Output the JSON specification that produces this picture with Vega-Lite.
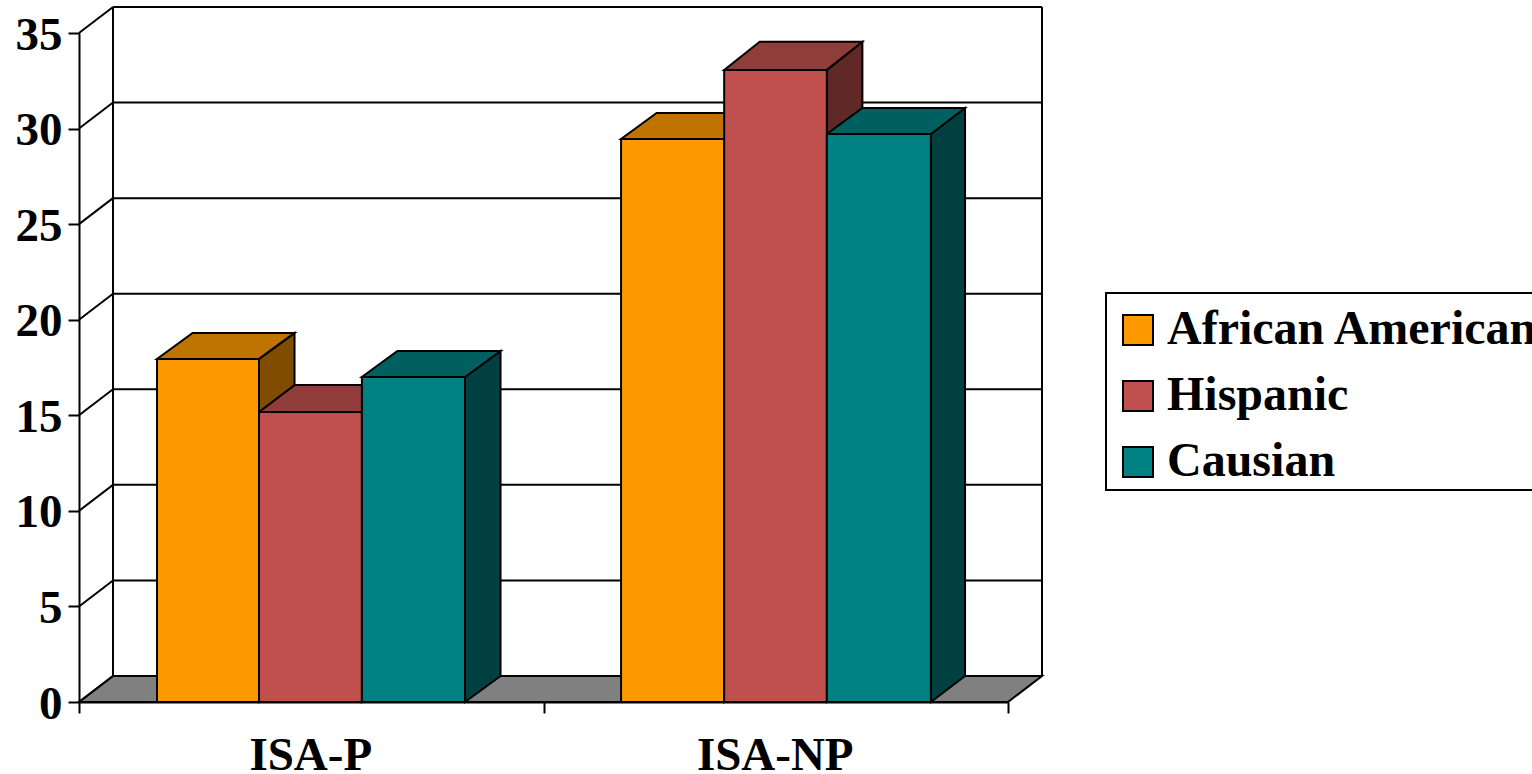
{
"$schema":"https://vega.github.io/schema/vega-lite/v6.json",
"width":929,"height":669,
"autosize":{"type":"none"},
"padding":{"left":79,"top":33,"right":524,"bottom":72},
"background":"white",
"config":{"view":{"stroke":null},"axis":{"grid":false,"title":null,"domainColor":"black","domainWidth":2,"tickColor":"black","tickWidth":2,"tickSize":11,"labelFont":"Liberation Serif","labelFontWeight":"bold","labelFontSize":47,"labelColor":"black","labelOverlap":false,"labelBound":false,"labelFlush":false},"legend":{"strokeWidth":2}},
"datasets":{
"bars":[
{"group":"ISA-P","series":"African American","x0":0.168,"x1":0.3875,"value":17.95},
{"group":"ISA-P","series":"Hispanic","x0":0.3875,"x1":0.609,"value":15.17},
{"group":"ISA-P","series":"Causian","x0":0.609,"x1":0.831,"value":17.0},
{"group":"ISA-NP","series":"African American","x0":1.167,"x1":1.389,"value":29.46},
{"group":"ISA-NP","series":"Hispanic","x0":1.389,"x1":1.61,"value":33.07},
{"group":"ISA-NP","series":"Causian","x0":1.61,"x1":1.834,"value":29.72}
],
"floor":[
{"x":0,"lo":0,"hi":0},{"x":0.0732,"lo":0,"hi":1.36},{"x":2,"lo":0,"hi":1.36},{"x":2.0732,"lo":1.36,"hi":1.36}
],
"wall":[
{"x":0,"x2":0.0732,"y":0,"y2":1.36},{"x":0,"x2":0.0732,"y":5,"y2":6.36},{"x":0,"x2":0.0732,"y":10,"y2":11.36},{"x":0,"x2":0.0732,"y":15,"y2":16.36},{"x":0,"x2":0.0732,"y":20,"y2":21.36},{"x":0,"x2":0.0732,"y":25,"y2":26.36},{"x":0,"x2":0.0732,"y":30,"y2":31.36},{"x":0,"x2":0.0732,"y":35,"y2":36.36},
{"x":0.0732,"x2":2.0732,"y":1.36,"y2":1.36},{"x":0.0732,"x2":2.0732,"y":6.36,"y2":6.36},{"x":0.0732,"x2":2.0732,"y":11.36,"y2":11.36},{"x":0.0732,"x2":2.0732,"y":16.36,"y2":16.36},{"x":0.0732,"x2":2.0732,"y":21.36,"y2":21.36},{"x":0.0732,"x2":2.0732,"y":26.36,"y2":26.36},{"x":0.0732,"x2":2.0732,"y":31.36,"y2":31.36},{"x":0.0732,"x2":2.0732,"y":36.36,"y2":36.36},
{"x":0.0732,"x2":0.0732,"y":1.36,"y2":36.36},{"x":2.0732,"x2":2.0732,"y":1.36,"y2":36.36}
],
"faces":[
{"id":"s1","face":"African American side","x":0.3875,"lo":0,"hi":17.95},{"id":"s1","face":"African American side","x":0.464,"lo":1.36,"hi":19.31},
{"id":"s2","face":"Hispanic side","x":0.609,"lo":0,"hi":15.17},{"id":"s2","face":"Hispanic side","x":0.6855,"lo":1.36,"hi":16.58},
{"id":"s3","face":"Causian side","x":0.831,"lo":0,"hi":17.0},{"id":"s3","face":"Causian side","x":0.9075,"lo":1.36,"hi":18.36},
{"id":"s4","face":"African American side","x":1.389,"lo":0,"hi":29.46},{"id":"s4","face":"African American side","x":1.4655,"lo":1.36,"hi":30.82},
{"id":"s5","face":"Hispanic side","x":1.61,"lo":0,"hi":33.07},{"id":"s5","face":"Hispanic side","x":1.6865,"lo":1.36,"hi":34.54},
{"id":"s6","face":"Causian side","x":1.834,"lo":0,"hi":29.72},{"id":"s6","face":"Causian side","x":1.9075,"lo":1.36,"hi":31.08},
{"id":"t1","face":"African American top","x":0.168,"lo":17.95,"hi":17.95},{"id":"t1","face":"African American top","x":0.2445,"lo":17.95,"hi":19.31},{"id":"t1","face":"African American top","x":0.3875,"lo":17.95,"hi":19.31},{"id":"t1","face":"African American top","x":0.464,"lo":19.31,"hi":19.31},
{"id":"t2","face":"Hispanic top","x":0.3875,"lo":15.17,"hi":15.17},{"id":"t2","face":"Hispanic top","x":0.464,"lo":15.17,"hi":16.58},{"id":"t2","face":"Hispanic top","x":0.609,"lo":15.17,"hi":16.58},{"id":"t2","face":"Hispanic top","x":0.6855,"lo":16.58,"hi":16.58},
{"id":"t3","face":"Causian top","x":0.609,"lo":17.0,"hi":17.0},{"id":"t3","face":"Causian top","x":0.6855,"lo":17.0,"hi":18.36},{"id":"t3","face":"Causian top","x":0.831,"lo":17.0,"hi":18.36},{"id":"t3","face":"Causian top","x":0.9075,"lo":18.36,"hi":18.36},
{"id":"t4","face":"African American top","x":1.167,"lo":29.46,"hi":29.46},{"id":"t4","face":"African American top","x":1.2435,"lo":29.46,"hi":30.82},{"id":"t4","face":"African American top","x":1.389,"lo":29.46,"hi":30.82},{"id":"t4","face":"African American top","x":1.4655,"lo":30.82,"hi":30.82},
{"id":"t5","face":"Hispanic top","x":1.389,"lo":33.07,"hi":33.07},{"id":"t5","face":"Hispanic top","x":1.4655,"lo":33.07,"hi":34.54},{"id":"t5","face":"Hispanic top","x":1.61,"lo":33.07,"hi":34.54},{"id":"t5","face":"Hispanic top","x":1.6865,"lo":34.54,"hi":34.54},
{"id":"t6","face":"Causian top","x":1.61,"lo":29.72,"hi":29.72},{"id":"t6","face":"Causian top","x":1.6865,"lo":29.72,"hi":31.08},{"id":"t6","face":"Causian top","x":1.834,"lo":29.72,"hi":31.08},{"id":"t6","face":"Causian top","x":1.9075,"lo":31.08,"hi":31.08}
]
},
"layer":[
{"data":{"name":"floor"},
"mark":{"type":"area","fill":"#808080","stroke":"black","strokeWidth":2},
"encoding":{
"x":{"field":"x","type":"quantitative","title":null,"scale":{"domain":[0,2],"nice":false,"zero":false},
"axis":{"values":[0,0.5,1,1.5,2],"labelPadding":19,"labelAngle":0,"labelAlign":"center","labelOffset":-1,"labelExpr":"datum.value==0.5?'ISA-P':datum.value==1.5?'ISA-NP':''","tickOpacity":{"condition":{"test":"datum.value==0.5||datum.value==1.5","value":0},"value":1}}},
"y":{"field":"lo","type":"quantitative","title":null,"stack":null,"scale":{"domain":[0,35],"nice":false,"zero":false},
"axis":{"values":[0,5,10,15,20,25,30,35],"labelPadding":6,"labelOffset":2}},
"y2":{"field":"hi"}}},
{"data":{"name":"wall"},
"mark":{"type":"rule","color":"black","strokeWidth":2},
"encoding":{
"x":{"field":"x","type":"quantitative","title":null,"scale":{"domain":[0,2],"nice":false,"zero":false}},
"x2":{"field":"x2"},
"y":{"field":"y","type":"quantitative","title":null,"scale":{"domain":[0,35],"nice":false,"zero":false}},
"y2":{"field":"y2"}}},
{"data":{"name":"faces"},
"mark":{"type":"area","stroke":"black","strokeWidth":2,"strokeJoin":"miter"},
"encoding":{
"x":{"field":"x","type":"quantitative","title":null,"scale":{"domain":[0,2],"nice":false,"zero":false}},
"y":{"field":"lo","type":"quantitative","title":null,"stack":null,"scale":{"domain":[0,35],"nice":false,"zero":false}},
"y2":{"field":"hi"},
"detail":{"field":"id"},
"color":{"field":"face","type":"nominal","title":"\u00a0",
"scale":{"domain":["African American","Hispanic","Causian","African American top","Hispanic top","Causian top","African American side","Hispanic side","Causian side"],"range":["#FF9900","#C0504D","#008080","#BF7300","#903C3A","#006060","#804D00","#602826","#004040"]}}}},
{"data":{"name":"bars"},
"mark":{"type":"rect","stroke":"black","strokeWidth":2},
"encoding":{
"x":{"field":"x0","type":"quantitative","title":null,"scale":{"domain":[0,2],"nice":false,"zero":false}},
"x2":{"field":"x1"},
"y":{"field":"value","type":"quantitative","title":null,"scale":{"domain":[0,35],"nice":false,"zero":false}},
"y2":{"datum":0},
"color":{"field":"series","type":"nominal","title":"\u00a0",
"scale":{"domain":["African American","Hispanic","Causian","African American top","Hispanic top","Causian top","African American side","Hispanic side","Causian side"],"range":["#FF9900","#C0504D","#008080","#BF7300","#903C3A","#006060","#804D00","#602826","#004040"]},
"legend":{"title":"\u00a0","titleFontSize":1,"titlePadding":8,"orient":"none","legendX":1027,"legendY":260,"values":["African American","Hispanic","Causian"],"fillColor":"white","strokeColor":"black","padding":4,"symbolType":"square","symbolSize":900,"symbolOffset":4,"symbolStrokeColor":"black","symbolStrokeWidth":2,"symbolOpacity":1,"labelFont":"Liberation Serif","labelFontWeight":"bold","labelFontSize":48,"labelColor":"black","labelLimit":600,"labelOffset":5,"rowPadding":18}}}}
]
}
